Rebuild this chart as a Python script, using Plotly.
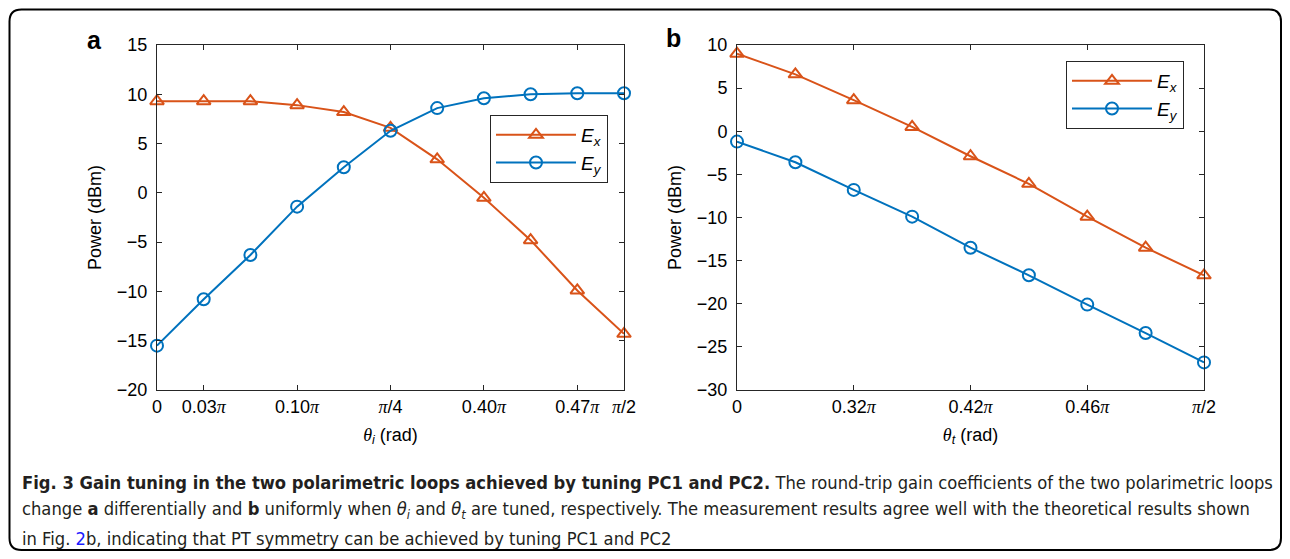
import plotly.graph_objects as go

# ---------------- data ----------------
# panel a: 11 equally spaced settings of theta_i
xa_pos = [0, 1, 2, 3, 4, 5, 6, 7, 8, 9, 10]
ex_a = [9.3, 9.3, 9.3, 8.9, 8.2, 6.6, 3.4, -0.5, -4.8, -9.9, -14.3]
ey_a = [-15.5, -10.8, -6.3, -1.4, 2.6, 6.3, 8.6, 9.6, 10.0, 10.1, 10.1]
xa_tickpos = [0, 1, 3, 5, 7, 9, 10]
xa_ticklabels = ["0", "0.03π", "0.10π", "π/4", "0.40π", "0.47π", "π/2"]

# panel b: 9 equally spaced settings of theta_t
xb_pos = [0, 1, 2, 3, 4, 5, 6, 7, 8]
ex_b = [9.0, 6.6, 3.6, 0.5, -2.9, -6.1, -9.9, -13.5, -16.7]
ey_b = [-1.2, -3.6, -6.8, -9.9, -13.5, -16.7, -20.1, -23.4, -26.8]
xb_tickpos = [0, 2, 4, 6, 8]
xb_ticklabels = ["0", "0.32π", "0.42π", "0.46π", "π/2"]

ORANGE = "#D95319"
BLUE = "#0072BD"
AX = "#262626"
SANS = "Liberation Sans, Arial, Helvetica, sans-serif"
SERIF = "Liberation Serif"
NARROW = "Liberation Sans Narrow, DejaVu Sans Condensed, Arial Narrow, sans-serif"

# page is 1290x559; the html body keeps an 8px margin, so the figure itself is 16px smaller
PAGE_W, PAGE_H, BODY = 1290, 559, 8
FW, FH = PAGE_W - 2 * BODY, PAGE_H - 2 * BODY


def fx(X):
    return (X - BODY) / FW


def fy(Y):
    return 1 - (Y - BODY) / FH


def pi_fmt(s):
    return s.replace("π", f'<span style="font-family:{SERIF}"><i>π</i></span>')


fig = go.Figure()

lbl_x = "<i>E</i><sub><i>x</i></sub>"
lbl_y = "<i>E</i><sub><i>y</i></sub>"


def add_series(x, y, name, color, symbol, xa, ya, leg):
    fig.add_trace(go.Scatter(x=x, y=y, mode="lines+markers", name=name,
                             line=dict(color=color, width=2),
                             marker=dict(symbol=symbol, size=12, color=color,
                                         line=dict(width=2, color=color)),
                             cliponaxis=False, xaxis=xa, yaxis=ya, legend=leg))


add_series(xa_pos, ex_a, lbl_x, ORANGE, "triangle-up-open", "x", "y", "legend")
add_series(xa_pos, ey_a, lbl_y, BLUE, "circle-open", "x", "y", "legend")
add_series(xb_pos, ex_b, lbl_x, ORANGE, "triangle-up-open", "x2", "y2", "legend2")
add_series(xb_pos, ey_b, lbl_y, BLUE, "circle-open", "x2", "y2", "legend2")

ytop = fy(45)
ybot = fy(390)

common_axis = dict(showline=True, linecolor=AX, linewidth=1, mirror="ticks",
                   ticks="inside", ticklen=5, tickcolor=AX, showgrid=False,
                   zeroline=False, automargin=False,
                   tickfont=dict(family=SANS, size=18, color="black"))

x_title_a = (f'<span style="font-family:{SERIF}"><i>θ</i></span><sub><i>i</i></sub> (rad)')
x_title_b = (f'<span style="font-family:{SERIF}"><i>θ</i></span><sub><i>t</i></sub> (rad)')

legend_common = dict(xanchor="left", yanchor="top", bgcolor="white", bordercolor=AX,
                     borderwidth=1, itemwidth=80,
                     font=dict(family=SANS, size=19, color="black"))

fig.update_layout(
    width=FW, height=FH, margin=dict(l=0, r=0, t=0, b=0, autoexpand=False),
    paper_bgcolor="white", plot_bgcolor="white",
    font=dict(family=SANS, size=17, color="black"),
    xaxis=dict(domain=[fx(157), fx(624)], range=[0, 10],
               tickvals=xa_tickpos, ticktext=[pi_fmt(t) for t in xa_ticklabels],
               title=dict(text=x_title_a, font=dict(size=18), standoff=12),
               anchor="y", **common_axis),
    yaxis=dict(domain=[ybot, ytop], range=[-20, 15], dtick=5, ticklabelstandoff=5,
               title=dict(text="Power (dBm)", font=dict(size=18), standoff=10),
               anchor="x", **common_axis),
    xaxis2=dict(domain=[fx(737), fx(1204)], range=[0, 8],
                tickvals=xb_tickpos, ticktext=[pi_fmt(t) for t in xb_ticklabels],
                title=dict(text=x_title_b, font=dict(size=18), standoff=12),
                anchor="y2", **common_axis),
    yaxis2=dict(domain=[ybot, ytop], range=[-30, 10], dtick=5, ticklabelstandoff=5,
                title=dict(text="Power (dBm)", font=dict(size=18), standoff=10),
                anchor="x2", **common_axis),
    legend=dict(x=fx(490), y=fy(115), **legend_common),
    legend2=dict(x=fx(1066), y=fy(61), **legend_common),
    showlegend=True,
)

# panel letters
fig.add_annotation(text="<b>a</b>", x=fx(94), y=fy(40), xref="paper", yref="paper",
                   xanchor="center", yanchor="middle", showarrow=False,
                   font=dict(family=SANS, size=25, color="black"))
fig.add_annotation(text="<b>b</b>", x=fx(673), y=fy(38), xref="paper", yref="paper",
                   xanchor="center", yanchor="middle", showarrow=False,
                   font=dict(family=SANS, size=25, color="black"))

# rounded frame (page coordinates, clamped to the figure)
x0, x1, y0, y1, r = 9.5, 1281, 9.5, 550, 12
path = (f"M {fx(x0 + r)},{fy(y0)} L {fx(x1 - r)},{fy(y0)} "
        f"Q {fx(x1)},{fy(y0)} {fx(x1)},{fy(y0 + r)} "
        f"L {fx(x1)},{fy(y1 - r)} Q {fx(x1)},{fy(y1)} {fx(x1 - r)},{fy(y1)} "
        f"L {fx(x0 + r)},{fy(y1)} Q {fx(x0)},{fy(y1)} {fx(x0)},{fy(y1 - r)} "
        f"L {fx(x0)},{fy(y0 + r)} Q {fx(x0)},{fy(y0)} {fx(x0 + r)},{fy(y0)} Z")
fig.add_shape(type="path", path=path, xref="paper", yref="paper",
              line=dict(color="black", width=2), layer="below")

# caption
cap_lines = [
    "<b>Fig. 3 Gain tuning in the two polarimetric loops achieved by tuning PC1 and PC2.</b>"
    " The round-trip gain coefficients of the two polarimetric loops",
    "change <b>a</b> differentially and <b>b</b> uniformly when <i>θ</i><sub><i>i</i></sub> and "
    "<i>θ</i><sub><i>t</i></sub> are tuned, respectively. The measurement results agree well with "
    "the theoretical results shown",
    'in Fig. <span style="color:#1a1aff">2</span>b, indicating that PT symmetry can be achieved by '
    "tuning PC1 and PC2",
]
cap_y = [482, 510, 538]
for txt, yy in zip(cap_lines, cap_y):
    fig.add_annotation(text=txt, x=fx(20), y=fy(yy), xref="paper", yref="paper",
                       xanchor="left", yanchor="middle", showarrow=False, align="left",
                       font=dict(family=NARROW, size=18.2, color="#231f20"))

fig.write_html("out.html", config={"displayModeBar": False})
